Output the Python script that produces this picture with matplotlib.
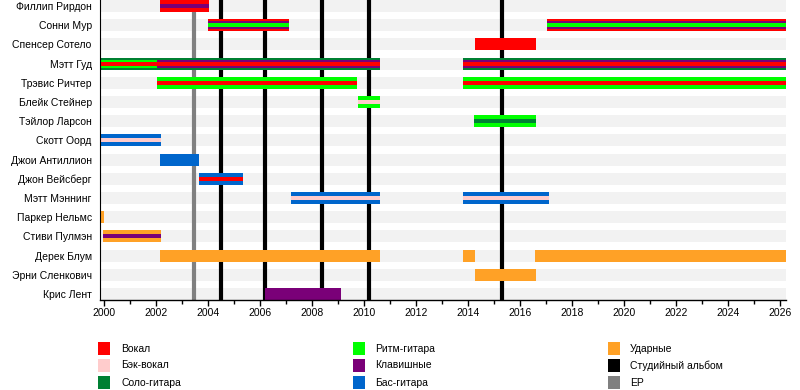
import matplotlib
matplotlib.use("Agg")
import matplotlib.pyplot as plt
from matplotlib.patches import Patch

plt.rcParams['font.family'] = ['Liberation Sans', 'DejaVu Sans']

# ---- data ----
members = ["Филлип Рирдон", "Сонни Мур", "Спенсер Сотело", "Мэтт Гуд", "Трэвис Ричтер",
           "Блейк Стейнер", "Тэйлор Ларсон", "Скотт Оорд", "Джои Антиллион", "Джон Вейсберг",
           "Мэтт Мэннинг", "Паркер Нельмс", "Стиви Пулмэн", "Дерек Блум", "Эрни Сленкович",
           "Крис Лент"]

END = 2026.23  # present

# stints: (member index, start, end, roles from outer to inner)
stint_member = [0, 1, 1, 2, 3, 3, 3, 4, 4, 5, 6, 7, 8, 9, 10, 10, 11, 12, 13, 13, 13, 14, 15]
stint_start = [2002.15, 2004.0, 2017.04, 2014.27, 1999.85, 2002.04, 2013.8, 2002.04, 2013.8,
               2009.77, 2014.23, 1999.85, 2002.15, 2003.65, 2007.19, 2013.8, 1999.85, 1999.96,
               2002.15, 2013.8, 2016.58, 2014.27, 2006.19]
stint_end = [2004.04, 2007.12, END, 2016.62, 2002.04, 2010.6, END, 2009.73, END,
             2010.6, 2016.62, 2002.19, 2003.65, 2005.35, 2010.6, 2017.12, 2000.0, 2002.19,
             2010.6, 2014.27, END, 2016.62, 2009.12]
stint_roles = [
    ["vocal", "keys"],
    ["vocal", "keys", "rhythm"],
    ["vocal", "keys", "rhythm"],
    ["vocal"],
    ["lead", "rhythm", "vocal"],
    ["lead", "keys", "vocal"],
    ["lead", "keys", "vocal"],
    ["rhythm", "vocal"],
    ["rhythm", "vocal"],
    ["rhythm", "backing"],
    ["rhythm", "lead"],
    ["bass", "backing"],
    ["bass"],
    ["bass", "vocal"],
    ["bass", "backing"],
    ["bass", "backing"],
    ["drums"],
    ["drums", "keys"],
    ["drums"],
    ["drums"],
    ["drums"],
    ["drums"],
    ["keys"],
]

studio_albums = [2004.5, 2006.2, 2008.37, 2010.2, 2015.32]
ep_releases = [2003.46]

role_names = ["vocal", "backing", "lead", "rhythm", "keys", "bass", "drums"]
role_labels = ["Вокал", "Бэк-вокал", "Соло-гитара", "Ритм-гитара", "Клавишные",
               "Бас-гитара", "Ударные"]
role_colors = {"vocal": "#FF0000", "backing": "#FFCCCC", "lead": "#008033",
               "rhythm": "#00FF00", "keys": "#7A0078", "bass": "#0066CC",
               "drums": "#FFA126"}
album_label = "Студийный альбом"
ep_label = "EP"

# ---- figure ----
fig = plt.figure(figsize=(8, 3.9), dpi=100)
ax = fig.add_axes([100 / 800, 1 - 300 / 390, 686 / 800, 300 / 390])

H = 0.62
n = len(members)
ax.set_xlim(1999.846, 2026.23)
ax.set_ylim(n - 1 + 0.31, -0.31)

# background stripes
for i in range(n):
    ax.barh(i, 2026.23 - 1999.846, left=1999.846, height=H, color="#F2F2F2", zorder=0)

# vertical lines
for x in studio_albums:
    ax.axvline(x, color="black", lw=3, zorder=1)
for x in ep_releases:
    ax.axvline(x, color="#808080", lw=3, zorder=1)

# bars
for m, s, e, roles in zip(stint_member, stint_start, stint_end, stint_roles):
    if len(roles) == 1:
        layers = [(roles[0], 1.0)]
    elif len(roles) == 2:
        layers = [(roles[0], 1/3), (roles[1], 1/3), (roles[0], 1/3)]
    else:
        layers = [(roles[0], 1/6), (roles[1], 1/6), (roles[2], 1/3), (roles[1], 1/6), (roles[0], 1/6)]
    top = m - H / 2
    for r, frac in layers:
        h = frac * H
        ax.barh(top + h / 2, e - s, left=s, height=h, color=role_colors[r], zorder=2, linewidth=0)
        top += h

ax.set_yticks(range(n))
ax.set_yticklabels(members, fontsize=7.5)
ax.tick_params(axis="y", length=0, pad=6)
ax.set_xticks(range(2000, 2027, 2))
ax.set_xticks(range(2000, 2027), minor=True)
ax.tick_params(axis="x", which="major", length=4, width=1, labelsize=7.5, pad=2)
ax.tick_params(axis="x", which="minor", length=3, width=1)
for sp in ["top", "right"]:
    ax.spines[sp].set_visible(False)
ax.spines["left"].set_linewidth(0.8)
ax.spines["bottom"].set_linewidth(1)

# legend
handles = [Patch(facecolor=role_colors[r], edgecolor="none") for r in role_names]
labels = list(role_labels)
handles += [Patch(facecolor="black", edgecolor="none"), Patch(facecolor="#808080", edgecolor="none")]
labels += [album_label, ep_label]
cols = [(98, 121), (353, 375), (608, 630)]
rows_y = [348.5, 365.5, 382.5]
order = [0, 1, 2, 3, 4, 5, 6, 7, 8]
for k, (hd, lb) in enumerate(zip(handles, labels)):
    c, r = divmod(k, 3)
    sx, tx = cols[c]
    yy = rows_y[r]
    fig.patches.append(plt.Rectangle((sx / 800, 1 - (yy + 6.5) / 390), 12 / 800, 13 / 390,
                                     transform=fig.transFigure, facecolor=hd.get_facecolor(),
                                     edgecolor="none"))
    fig.text(tx / 800, 1 - yy / 390, lb, fontsize=7.5, va="center", ha="left")

fig.savefig("out.png", dpi=100)
